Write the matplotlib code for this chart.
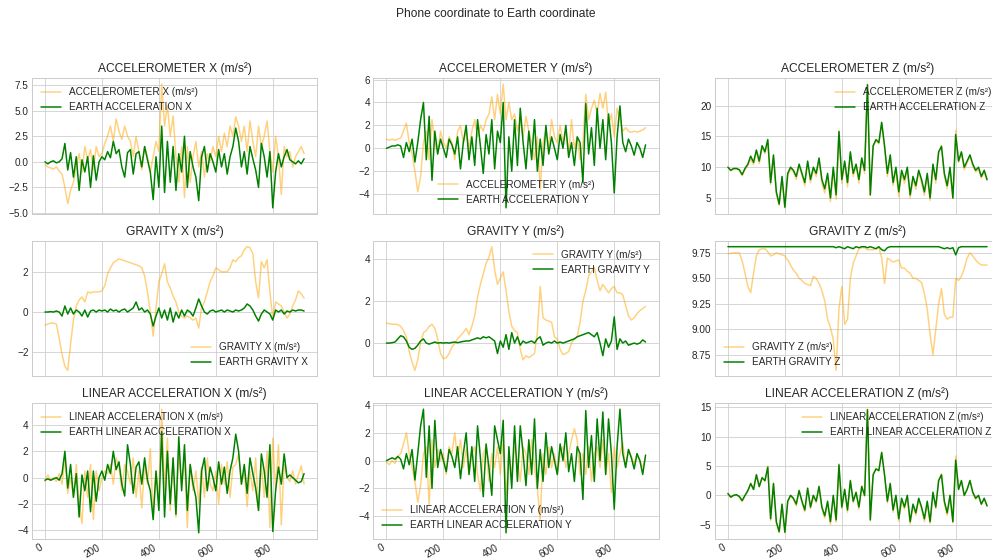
import matplotlib
matplotlib.use('Agg')
import matplotlib.pyplot as plt

# sample index (every 10th reading of the recording)
sample_idx = list(range(0, 920, 10))

# ---- accelerometer ----
acc_x = [-0.3, -0.5, -0.6, -0.7, -0.5, -0.9, -1.2, -2.5, -4.1, -2.8,
         -2.0, -0.5, 0.8, -1.0, 1.5, 0.2, 1.2, -0.8, 1.5, 0.5,
         0.8, 1.8, 2.5, 3.5, 2.0, 4.2, 3.0, 2.2, 3.5, 2.5,
         2.0, 0.5, 2.5, 1.0, -0.8, 1.5, 0.5, -1.0, 0.5, 2.0,
         1.0, 7.6, 3.5, 5.5, 2.5, 4.5, 0.5, -2.0, 1.5, -3.5,
         1.5, -2.0, 0.5, 2.0, -0.5, 1.0, -1.5, 0.8, 0.0, 1.5,
         0.5, 2.5, 1.0, 2.8, 1.5, 3.5, 2.5, 4.4, 3.5, 2.0,
         3.5, 1.0, 4.0, 2.0, 0.5, 3.5, 1.5, 2.5, 4.0, 1.0,
         -1.0, 2.5, 0.5, -3.2, 1.5, 0.5, 1.0, -0.5, 0.5, 1.0,
         1.5, 0.8]
earth_acc_x = [0.0, -0.2, 0.0, 0.1, -0.1, 0.0, 0.3, 1.8, -0.8, 0.9,
               -1.5, 0.5, -2.8, 0.2, -1.0, 0.5, -2.5, 0.6, -1.8, 0.0,
               0.5, 0.2, 1.0, 0.4, 2.0, 0.8, 1.2, -0.5, -1.5, 0.9,
               1.2, -1.2, 0.8, 1.0, -0.5, 1.5, 0.2, -1.0, -3.7, 0.5,
               -2.5, 3.5, -3.0, 2.0, -2.0, 1.5, -2.8, 0.8, -1.0, 2.5,
               -2.5, 1.0, -0.5, -1.5, -3.8, 0.5, 1.5, -1.0, 0.8, 0.0,
               -1.0, 1.2, -0.5, 0.8, -1.2, 0.5, 1.5, 3.3, 2.0, -0.5,
               1.0, -1.2, 1.5, 0.3, -0.8, -2.5, 1.8, 0.5, -1.5, 1.0,
               -4.5, -1.0, 0.8, -0.5, 0.5, 1.2, 0.2, 0.0, -0.2, 0.1,
               -0.2, 0.3]

acc_y = [0.8, 0.7, 0.8, 0.7, 0.8, 0.9, 1.5, 2.2, 0.5, -0.5,
         -2.0, -3.8, -2.5, 0.5, 1.5, -1.0, 2.5, 0.5, -0.5, 1.5,
         0.5, 0.0, 1.0, 0.5, -1.0, 1.5, 2.0, 0.5, 1.5, 0.0,
         1.5, 2.5, 1.0, 2.0, 1.5, 2.5, 3.0, 4.5, 2.5, 4.7,
         3.0, 5.6, 2.5, 4.0, 2.5, 3.0, 1.5, 2.5, 1.0, 2.8,
         1.5, 0.5, -1.0, 1.0, -3.6, 0.5, 1.5, 0.0, 2.5, 1.0,
         0.5, 2.0, 0.5, 1.5, -0.5, 2.5, 0.0, 1.0, -1.0, 0.5,
         4.7, 2.5, 3.5, 4.2, 3.0, 4.8, 3.5, 4.9, 2.0, 3.0,
         1.0, 3.5, 2.5, 1.5, 1.8, 1.5, 1.4, 1.5, 1.4, 1.5,
         1.6, 1.8]
earth_acc_y = [0.0, 0.1, 0.2, 0.2, 0.3, 0.2, -0.8, 0.5, -0.3, 0.8,
               -1.2, 0.5, 2.5, 4.0, -1.0, 2.8, -2.8, 1.5, -0.5, 0.8,
               0.0, -0.8, 0.8, 0.3, -0.5, 1.0, -1.8, 0.5, 2.0, -1.0,
               1.0, -1.5, 2.5, 0.2, -2.2, 1.2, -0.5, 2.5, -1.8, 1.5,
               0.5, 4.0, -5.2, 1.0, -2.0, 2.5, -1.5, 3.5, 0.5, -1.8,
               1.5, -1.0, 2.5, -2.0, 0.8, -1.5, 2.0, -0.5, 1.0, 0.0,
               -1.0, 1.2, 0.0, 2.0, -0.8, 0.5, -1.5, 1.0, 0.5, -3.0,
               3.9, -0.5, 1.8, -1.5, 3.5, 0.0, 2.5, -1.0, 3.0, 0.5,
               -3.9, 1.0, 3.7, 0.5, -0.3, 0.8, 0.2, -0.6, 0.5, 0.0,
               -0.8, 0.3]

acc_z = [10.0, 9.4, 9.7, 9.7, 9.5, 8.6, 9.6, 10.2, 11.3, 10.4,
         12.5, 10.6, 13.3, 12.2, 14.3, 7.2, 11.7, 5.6, 3.8, 8.2,
         3.4, 8.6, 9.7, 9.2, 8.0, 10.2, 8.6, 7.0, 10.8, 7.5,
         9.6, 8.5, 11.2, 7.4, 5.8, 8.5, 4.4, 9.6, 4.8, 15.9,
         7.4, 10.7, 6.8, 12.2, 8.5, 10.2, 7.4, 11.3, 9.0, 23.5,
         5.4, 13.3, 14.3, 13.8, 17.2, 13.2, 8.5, 11.8, 7.0, 9.6,
         5.2, 9.0, 7.4, 9.6, 5.0, 8.0, 6.4, 9.2, 7.4, 5.4,
         8.5, 4.6, 10.2, 7.4, 12.3, 13.5, 8.5, 6.5, 9.6, 4.9,
         16.0, 10.8, 12.3, 9.6, 10.7, 11.8, 10.2, 9.2, 9.7, 8.2,
         9.2, 7.8]
earth_acc_z = [10.0, 9.5, 9.8, 9.8, 9.6, 8.8, 9.8, 10.5, 11.8, 10.8,
               12.8, 11.0, 13.5, 12.5, 14.5, 7.5, 12.0, 6.0, 4.0, 8.5,
               3.5, 9.0, 10.0, 9.5, 8.5, 10.5, 9.0, 7.5, 11.0, 8.0,
               10.0, 9.0, 11.5, 8.0, 6.5, 9.0, 5.0, 10.0, 5.5, 15.8,
               8.0, 11.0, 7.5, 12.5, 9.0, 10.5, 8.0, 11.5, 9.5, 23.4,
               5.5, 13.5, 14.5, 14.0, 17.3, 13.5, 9.0, 12.0, 7.5, 10.0,
               6.0, 9.5, 8.0, 10.0, 5.5, 8.5, 7.0, 9.5, 8.0, 6.0,
               9.0, 5.0, 10.5, 8.0, 12.5, 13.4, 9.0, 7.0, 10.0, 5.0,
               15.3, 11.0, 12.5, 10.0, 11.0, 12.0, 10.5, 9.5, 10.0, 8.5,
               9.5, 8.0]

# ---- gravity ----
grav_x = [-0.65, -0.6, -0.55, -0.55, -0.6, -1.3, -2.1, -2.7, -2.9, -1.6,
          -0.4, 0.3, 0.6, 0.75, 0.5, 1.0, 0.95, 1.0, 1.0, 1.0,
          1.05, 1.3, 1.9, 2.2, 2.45, 2.55, 2.65, 2.6, 2.55, 2.5,
          2.45, 2.4, 2.35, 2.3, 2.2, 1.8, 1.0, 0.0, -1.2, 0.2,
          1.5, 1.9, 2.4, 1.5, 1.2, 0.8, 0.5, 0.0, -0.2, -0.3,
          -0.2, -0.3, -0.4, -0.3, -0.8, 0.2, 0.5, 1.0, 1.5, 1.8,
          2.2, 2.1, 2.0, 2.0, 2.0, 2.2, 2.6, 2.5, 2.7, 2.8,
          3.1, 3.25, 3.2, 2.9, 1.5, 0.7, 2.5, 2.2, 2.6, 1.0,
          -0.3, 0.5, 0.4, 0.3, 0.0, -0.3, -0.1, 0.3, 0.6, 1.05,
          0.9, 0.7]
earth_grav_x = [0.0, 0.0, 0.02, 0.0, 0.05, 0.0, -0.2, 0.3, -0.1, 0.2,
                -0.1, 0.1, 0.0, -0.2, 0.1, -0.25, 0.05, 0.1, 0.0, 0.1,
                0.05, 0.1, 0.0, 0.15, 0.05, 0.1, 0.0, 0.1, 0.15, 0.0,
                0.1, 0.2, 0.5, 0.1, 0.2, 0.0, 0.1, -0.1, -0.7, -0.2,
                0.2, -0.3, 0.1, -0.4, 0.2, -0.5, 0.0, -0.3, 0.1, -0.2,
                0.1, 0.0, -0.2, 0.2, 0.65, 0.3, 0.0, -0.1, 0.05, 0.1,
                0.0, 0.05, 0.1, 0.0, 0.1, 0.05, 0.0, 0.1, 0.05, 0.1,
                0.2, 0.4, 0.3, 0.1, -0.2, -0.45, -0.1, 0.1, 0.0, -0.1,
                -0.4, 0.1, 0.0, 0.1, -0.1, 0.05, 0.0, 0.1, 0.05, 0.1,
                0.1, 0.05]

grav_y = [0.95, 0.93, 0.9, 0.9, 0.88, 0.8, 0.6, 0.3, -0.4, -0.9,
          -1.3, -0.8, 0.0, 0.5, 0.6, 0.8, 0.9, 0.7, 0.2, -0.5,
          -0.75, -0.7, -0.5, -0.2, 0.0, 0.2, 0.35, 0.5, 0.7, 0.4,
          0.8, 1.3, 2.2, 2.8, 3.3, 3.8, 4.1, 4.6, 3.5, 2.8,
          3.1, 3.4, 2.5, 1.5, 0.8, 0.6, 0.5, -0.3, -0.8, -0.6,
          -0.7, -0.6, -0.5, 0.5, 2.7, 1.2, 1.1, 1.05, 1.0, 0.3,
          0.2, -0.3, -0.55, -0.5, -0.4, 0.0, 0.2, 0.3, 1.0, 2.0,
          2.5, 3.2, 3.4, 3.6, 3.0, 2.5, 2.8, 2.6, 2.4, 2.6,
          2.7, 2.4, 2.4, 2.3, 1.8, 1.3, 1.1, 1.2, 1.4, 1.55,
          1.65, 1.75]
earth_grav_y = [0.0, 0.0, 0.02, 0.05, 0.2, 0.35, 0.3, 0.1, -0.2, -0.3,
                -0.25, -0.1, 0.1, 0.2, 0.0, -0.05, 0.0, 0.05, 0.0, 0.02,
                0.0, 0.02, 0.0, 0.03, 0.05, 0.02, 0.05, 0.08, 0.1, 0.1,
                0.15, 0.2, 0.25, 0.2, 0.3, 0.25, 0.3, 0.2, 0.1, -0.5,
                0.1, -0.2, 0.4, -0.3, 0.5, 0.0, 0.3, -0.1, 0.1, 0.0,
                0.05, 0.1, 0.0, 0.2, 0.3, -0.1, 0.0, 0.05, 0.0, 0.1,
                0.0, 0.05, 0.0, 0.05, 0.1, 0.15, 0.2, 0.3, 0.35, 0.4,
                0.45, 0.5, 0.4, 0.3, 0.5, 0.0, -0.6, 0.2, -0.2, 0.1,
                1.25, -0.3, 0.2, 0.0, 0.1, -0.1, -0.05, 0.0, -0.05, 0.0,
                0.15, 0.05]

grav_z = [9.74, 9.745, 9.75, 9.75, 9.75, 9.67, 9.55, 9.42, 9.36, 9.55,
          9.72, 9.78, 9.79, 9.79, 9.76, 9.72, 9.73, 9.75, 9.74, 9.73,
          9.72, 9.68, 9.63, 9.58, 9.55, 9.5, 9.48, 9.45, 9.44, 9.43,
          9.52, 9.5, 9.45, 9.38, 9.28, 9.1, 9.02, 8.9, 8.6, 9.2,
          9.42, 9.05, 9.1, 9.5, 9.65, 9.72, 9.79, 9.8, 9.8, 9.78,
          9.78, 9.78, 9.79, 9.8, 9.7, 9.45, 9.7, 9.68, 9.66, 9.67,
          9.68, 9.6, 9.6, 9.57, 9.55, 9.5, 9.5, 9.48, 9.46, 9.35,
          9.2, 8.95, 8.75, 9.0, 9.25, 9.4, 9.15, 9.1, 9.12, 9.12,
          9.5, 9.48, 9.52, 9.6, 9.7, 9.75, 9.72, 9.68, 9.65, 9.63,
          9.63, 9.63]
earth_grav_z = [9.81, 9.81, 9.81, 9.81, 9.81, 9.81, 9.81, 9.81, 9.81, 9.81,
                9.81, 9.81, 9.81, 9.81, 9.81, 9.81, 9.81, 9.81, 9.81, 9.81,
                9.81, 9.81, 9.81, 9.81, 9.81, 9.81, 9.81, 9.81, 9.81, 9.81,
                9.81, 9.81, 9.81, 9.81, 9.81, 9.81, 9.81, 9.81, 9.80, 9.81,
                9.80, 9.79, 9.81, 9.80, 9.79, 9.81, 9.80, 9.81, 9.81, 9.80,
                9.81, 9.80, 9.79, 9.81, 9.78, 9.77, 9.80, 9.81, 9.81, 9.81,
                9.81, 9.81, 9.81, 9.81, 9.81, 9.81, 9.81, 9.81, 9.81, 9.81,
                9.81, 9.81, 9.81, 9.81, 9.81, 9.80, 9.79, 9.80, 9.79, 9.80,
                9.73, 9.80, 9.81, 9.81, 9.81, 9.81, 9.81, 9.81, 9.81, 9.81,
                9.81, 9.81]

# ---- linear acceleration ----
lin_x = [-0.3, 0.2, -0.2, 0.0, -0.3, 0.3, -0.5, 1.5, -1.2, 0.0,
         -1.5, 1.0, -2.0, -3.5, 0.5, -1.5, 1.0, -3.2, 0.5, -1.0,
         0.0, 0.5, 0.3, 1.0, -0.5, 1.5, 0.8, -1.0, 1.0, 0.5,
         -0.5, 1.5, -1.5, 0.5, -2.3, 1.0, -0.5, 2.2, -3.0, 0.5,
         -1.5, 5.2, -1.0, 3.0, -2.5, 1.5, -3.0, 2.0, -0.5, 1.5,
         -3.8, 1.0, -1.0, 0.5, -2.0, 0.8, -1.5, 1.5, -0.5, -1.0,
         0.5, -2.0, 1.0, -0.5, 1.2, -1.5, 0.8, 1.0, 1.8, -0.5,
         0.5, -2.2, 0.5, -1.0, 1.5, -2.5, 1.0, -1.5, 2.0, -3.8,
         3.0, -1.0, 2.5, -3.6, 1.0, 0.0, -0.3, 0.5, -0.5, 0.2,
         0.9, -0.5]
earth_lin_x = [-0.2, -0.1, -0.2, -0.1, 0.0, -0.2, 0.3, 2.0, -0.8, 1.0,
               -1.5, 0.3, -3.0, 0.2, -1.0, 0.5, -2.6, 0.5, -1.8, 0.0,
               0.5, -0.2, 1.0, 0.3, 2.0, 0.6, 1.2, -0.5, -1.4, 2.5,
               1.0, -1.2, 0.8, 1.2, -0.5, 1.5, -0.2, -1.0, -3.2, 0.5,
               -2.5, 3.5, -3.0, 2.0, -2.0, 1.5, -2.8, 3.1, -1.0, 2.5,
               -2.5, 1.0, -0.5, -1.5, -4.2, 0.5, 1.5, -1.0, 0.8, 0.0,
               -1.0, 1.2, -0.5, 0.8, -1.2, 0.5, 1.5, 3.3, 2.0, -0.5,
               1.0, -1.2, 1.5, 0.3, -0.8, -2.5, 1.8, 0.5, -1.5, 2.5,
               -4.1, -1.0, 0.8, -0.5, 1.8, 0.0, 0.2, 0.0, -0.2, -0.4,
               -0.3, 0.3]

lin_y = [-0.1, -0.3, 0.0, -0.2, 0.3, 0.5, 1.2, 2.0, 0.5, -0.5,
         -1.5, -3.0, -1.8, 0.5, 1.0, -3.2, 1.5, -0.5, 0.8, 0.0,
         0.5, -1.0, 1.0, 0.5, 2.0, 0.0, 1.5, -0.5, 0.8, -1.0,
         0.5, 1.0, -1.0, -2.2, 0.5, 1.0, -1.5, 0.5, -0.5, 1.0,
         -1.0, 1.5, -2.5, 0.5, -1.0, 1.0, 0.0, -1.5, 1.0, 0.5,
         -1.0, 1.5, -0.5, -2.0, -4.3, 0.5, -1.0, 1.0, -0.5, 0.5,
         -1.0, 0.5, 1.0, -0.5, 0.5, 1.5, 2.3, 1.5, -1.0, 0.5,
         -1.0, 1.0, -1.5, 0.5, 1.0, -0.5, 1.5, -1.0, 0.5, -2.3,
         1.0, -0.5, 0.5, 1.3, -0.5, 0.8, 0.3, -0.2, 0.5, 0.0,
         -0.5, 0.2]
earth_lin_y = [0.0, 0.1, 0.2, 0.1, 0.3, 0.1, -0.6, 0.5, -0.3, 0.8,
               -1.4, 0.5, 2.5, 3.7, -1.2, 2.5, -2.0, 2.9, -0.5, 0.8,
               0.0, -0.8, 0.8, 0.3, -0.5, 1.0, -1.3, 0.5, 2.0, -1.0,
               1.0, -1.5, 2.5, 0.2, -2.6, 1.2, -0.5, -2.5, 2.5, 1.5,
               0.5, 2.9, -5.2, 1.0, -2.0, 2.5, -1.5, 2.5, 0.5, -1.8,
               1.5, -1.0, 3.0, -2.0, 0.8, -1.5, 2.0, -0.5, 1.0, 0.0,
               -1.0, 1.2, 0.0, 2.0, -0.8, 0.5, -1.5, 1.0, 0.5, -2.8,
               3.6, -0.5, 1.8, -1.5, 3.0, 0.0, 3.5, -1.0, 3.0, 0.5,
               -3.5, 1.0, 3.7, 0.5, -0.5, 0.8, 0.2, -0.6, 0.5, 0.0,
               -1.0, 0.4]

lin_z = [0.3, -0.4, 0.0, 0.1, -0.3, -1.1, -0.1, 0.7, 2.1, 1.0,
         3.6, 1.4, 3.1, 2.4, 5.0, -4.3, 2.1, -4.8, -6.4, -1.7,
         -6.4, -1.2, -0.1, -0.7, -1.8, 0.9, -1.3, -2.8, 1.3, -2.3,
         -0.2, -1.3, 1.6, -2.3, -3.9, -1.3, -5.0, -0.2, -4.6, 5.4,
         -2.3, 1.1, -2.9, 2.6, -1.3, 0.6, -2.4, 1.6, -0.2, 14.7,
         -4.3, 3.6, 4.6, 4.3, 7.4, 3.6, -1.3, 2.1, -2.9, -0.2,
         -4.4, -0.8, -2.4, -0.2, -4.9, -1.8, -3.4, -0.7, -2.4, -4.5,
         -1.3, -4.8, 0.6, -2.3, 2.6, 3.7, -1.3, -3.4, -0.1, -4.7,
         6.7, 1.1, 2.6, -0.1, 1.0, 2.6, 0.4, -0.7, -0.1, -1.6,
         -0.6, -1.8]
earth_lin_z = [0.3, -0.3, 0.0, 0.1, -0.2, -0.9, 0.0, 0.8, 2.0, 1.0,
               3.5, 1.5, 3.0, 2.5, 4.8, -4.0, 2.0, -4.5, -6.2, -1.5,
               -6.3, -1.0, 0.0, -0.5, -1.5, 0.8, -1.0, -2.5, 1.2, -2.0,
               0.0, -1.0, 1.5, -2.0, -3.5, -1.0, -4.5, 0.0, -4.2, 5.2,
               -2.0, 1.0, -2.5, 2.5, -1.0, 0.5, -2.0, 1.5, 0.0, 14.6,
               -4.2, 3.5, 4.5, 4.2, 7.3, 3.5, -1.0, 2.0, -2.5, 0.0,
               -4.0, -0.5, -2.0, 0.0, -4.5, -1.5, -3.0, -0.5, -2.0, -4.0,
               -1.0, -4.5, 0.5, -2.0, 2.5, 3.5, -1.0, -3.0, 0.0, -4.5,
               6.0, 1.0, 2.5, 0.0, 1.0, 2.5, 0.5, -0.5, 0.0, -1.5,
               -0.5, -1.8]

# (phone series, earth series, phone label, earth label, legend location)
panels = [
    [(acc_x, earth_acc_x, 'ACCELEROMETER X (m/s²)', 'EARTH ACCELERATION X', 'upper left'),
     (acc_y, earth_acc_y, 'ACCELEROMETER Y (m/s²)', 'EARTH ACCELERATION Y', 'lower center'),
     (acc_z, earth_acc_z, 'ACCELEROMETER Z (m/s²)', 'EARTH ACCELERATION Z', 'upper right')],
    [(grav_x, earth_grav_x, 'GRAVITY X (m/s²)', 'EARTH GRAVITY X', 'lower right'),
     (grav_y, earth_grav_y, 'GRAVITY Y (m/s²)', 'EARTH GRAVITY Y', 'upper right'),
     (grav_z, earth_grav_z, 'GRAVITY Z (m/s²)', 'EARTH GRAVITY Z', 'lower left')],
    [(lin_x, earth_lin_x, 'LINEAR ACCELERATION X (m/s²)', 'EARTH LINEAR ACCELERATION X', 'upper left'),
     (lin_y, earth_lin_y, 'LINEAR ACCELERATION Y (m/s²)', 'EARTH LINEAR ACCELERATION Y', 'lower left'),
     (lin_z, earth_lin_z, 'LINEAR ACCELERATION Z (m/s²)', 'EARTH LINEAR ACCELERATION Z', 'upper right')],
]


def make_chart():
    plt.style.use('seaborn-v0_8-whitegrid')
    plt.rcParams['font.family'] = ['Liberation Sans', 'DejaVu Sans']

    fig, axes = plt.subplots(3, 3, sharex=True, figsize=(992 / 72, 560 / 72), dpi=72)
    fig.subplots_adjust(left=32 / 992, right=1000 / 992, top=1 - 78 / 560, bottom=1 - 539 / 560,
                        wspace=0.198, hspace=0.195)

    for r, row in enumerate(panels):
        for c, (phone, earth, phone_label, earth_label, loc) in enumerate(row):
            ax = axes[r][c]
            ax.plot(sample_idx, phone, color='orange', alpha=0.5, label=phone_label)
            ax.plot(sample_idx, earth, color='green', label=earth_label)
            ax.set_title(phone_label)
            ax.legend(loc=loc)

    for ax in axes[2]:
        ax.set_xticks([0, 200, 400, 600, 800])
        for lbl in ax.get_xticklabels():
            lbl.set_rotation(30)
            lbl.set_ha('right')

    fig.suptitle('Phone coordinate to Earth coordinate', y=0.985)
    fig.savefig('out.png', dpi=72)
    plt.close(fig)


if __name__ == '__main__':
    make_chart()
